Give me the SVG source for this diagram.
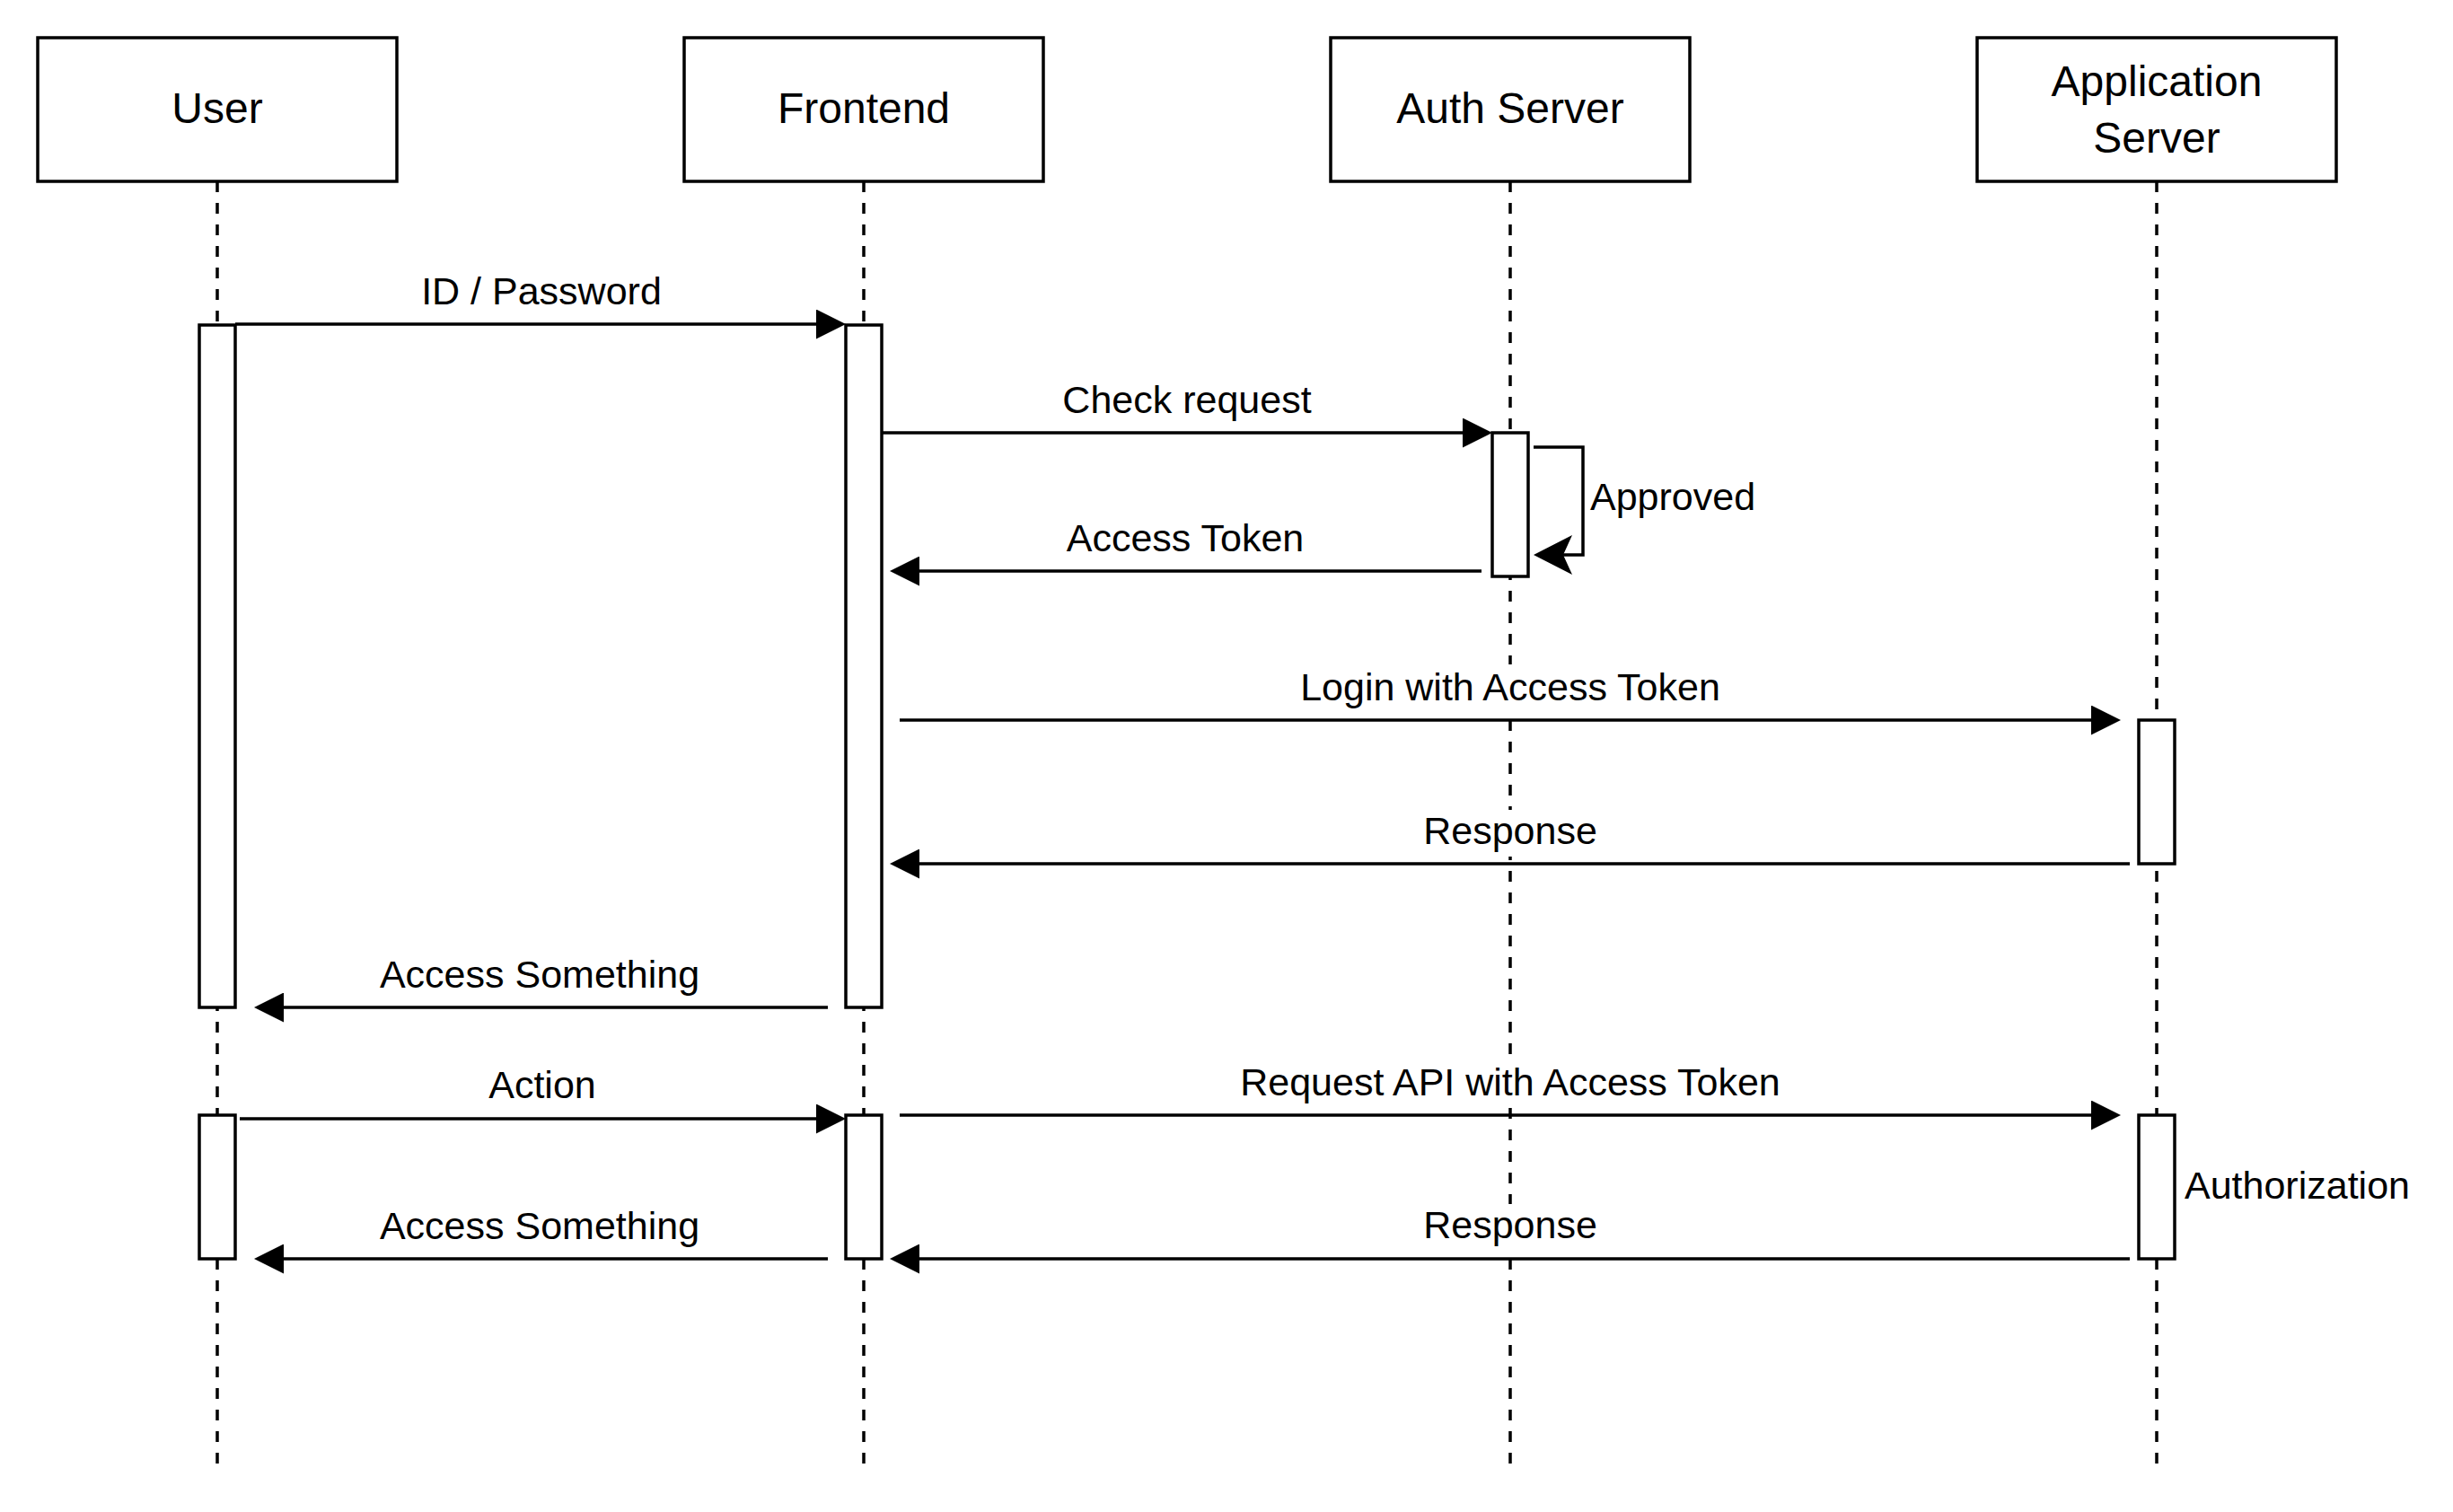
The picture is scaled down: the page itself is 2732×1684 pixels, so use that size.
<svg xmlns="http://www.w3.org/2000/svg" width="2732" height="1684" viewBox="0 0 2732 1684">
<style>
.box{fill:#fff;stroke:#000;stroke-width:3.5}
.life{stroke:#000;stroke-width:3.5;stroke-dasharray:12 12;fill:none}
.msg{stroke:#000;stroke-width:3.5;fill:none}
.hdr{font-family:"Liberation Sans",Arial,Helvetica,sans-serif;font-size:48px;text-anchor:middle;fill:#000}
.lbl{font-family:"Liberation Sans",Arial,Helvetica,sans-serif;font-size:43px;text-anchor:middle;fill:#000}
.side{font-family:"Liberation Sans",Arial,Helvetica,sans-serif;font-size:43px;text-anchor:start;fill:#000}
.bg{fill:#fff}
</style>
<defs>
<marker id="block" markerUnits="userSpaceOnUse" markerWidth="33" markerHeight="33" viewBox="0 0 33 33" refX="28" refY="16.5" orient="auto"><path d="M0,0 L33,16.5 L0,33 z" fill="#000"/></marker>
<marker id="classic" markerUnits="userSpaceOnUse" markerWidth="43" markerHeight="44" viewBox="0 0 43 44" refX="33" refY="22" orient="auto"><path d="M0,0 L43,22 L0,44 L10,22 z" fill="#000"/></marker>
</defs>
<rect width="2732" height="1684" fill="#fff"/>

<g id="user">
<line class="life" x1="242" y1="202" x2="242" y2="1630"/>
<rect class="box" x="42" y="42" width="400" height="160"/>
<text class="hdr" x="242" y="137">User</text>
<rect class="box" x="222" y="362" width="40" height="760"/>
<rect class="box" x="222" y="1242" width="40" height="160"/>
</g>

<g id="frontend">
<line class="life" x1="962" y1="202" x2="962" y2="1630"/>
<rect class="box" x="762" y="42" width="400" height="160"/>
<text class="hdr" x="962" y="137">Frontend</text>
<rect class="box" x="942" y="362" width="40" height="760"/>
<rect class="box" x="942" y="1242" width="40" height="160"/>
</g>

<g id="auth-server">
<line class="life" x1="1682" y1="202" x2="1682" y2="1630"/>
<rect class="box" x="1482" y="42" width="400" height="160"/>
<text class="hdr" x="1682" y="137">Auth Server</text>
<rect class="box" x="1662" y="482" width="40" height="160"/>
</g>

<g id="application-server">
<line class="life" x1="2402" y1="202" x2="2402" y2="1630"/>
<rect class="box" x="2202" y="42" width="400" height="160"/>
<text class="hdr" x="2402" y="107">Application</text>
<text class="hdr" x="2402" y="170">Server</text>
<rect class="box" x="2382" y="802" width="40" height="160"/>
<rect class="box" x="2382" y="1242" width="40" height="160"/>
<text class="side" x="2433" y="1335">Authorization</text>
</g>

<g id="connectors">
<line class="msg" x1="262" y1="361" x2="937" y2="361" marker-end="url(#block)"/>
<text class="lbl" x="603" y="339">ID / Password</text>

<line class="msg" x1="982" y1="482" x2="1657" y2="482" marker-end="url(#block)"/>
<text class="lbl" x="1322" y="460">Check request</text>

<path class="msg" d="M1708,498 H1763 V618 H1718" marker-end="url(#classic)"/>
<text class="side" x="1771" y="568">Approved</text>

<line class="msg" x1="1650" y1="636" x2="996" y2="636" marker-end="url(#block)"/>
<text class="lbl" x="1320" y="614">Access Token</text>

<line class="msg" x1="1002" y1="802" x2="2357" y2="802" marker-end="url(#block)"/>
<rect class="bg" x="1442" y="740" width="480" height="54"/>
<text class="lbl" x="1682" y="780">Login with Access Token</text>

<line class="msg" x1="2372" y1="962" x2="996" y2="962" marker-end="url(#block)"/>
<rect class="bg" x="1582" y="902" width="200" height="52"/>
<text class="lbl" x="1682" y="940">Response</text>

<line class="msg" x1="922" y1="1122" x2="288" y2="1122" marker-end="url(#block)"/>
<text class="lbl" x="601" y="1100">Access Something</text>

<line class="msg" x1="267" y1="1246" x2="937" y2="1246" marker-end="url(#block)"/>
<text class="lbl" x="604" y="1223">Action</text>

<line class="msg" x1="1002" y1="1242" x2="2357" y2="1242" marker-end="url(#block)"/>
<rect class="bg" x="1372" y="1182" width="620" height="52"/>
<text class="lbl" x="1682" y="1220">Request API with Access Token</text>

<line class="msg" x1="2372" y1="1402" x2="996" y2="1402" marker-end="url(#block)"/>
<rect class="bg" x="1582" y="1341" width="200" height="52"/>
<text class="lbl" x="1682" y="1379">Response</text>

<line class="msg" x1="922" y1="1402" x2="288" y2="1402" marker-end="url(#block)"/>
<text class="lbl" x="601" y="1380">Access Something</text>
</g>
</svg>
